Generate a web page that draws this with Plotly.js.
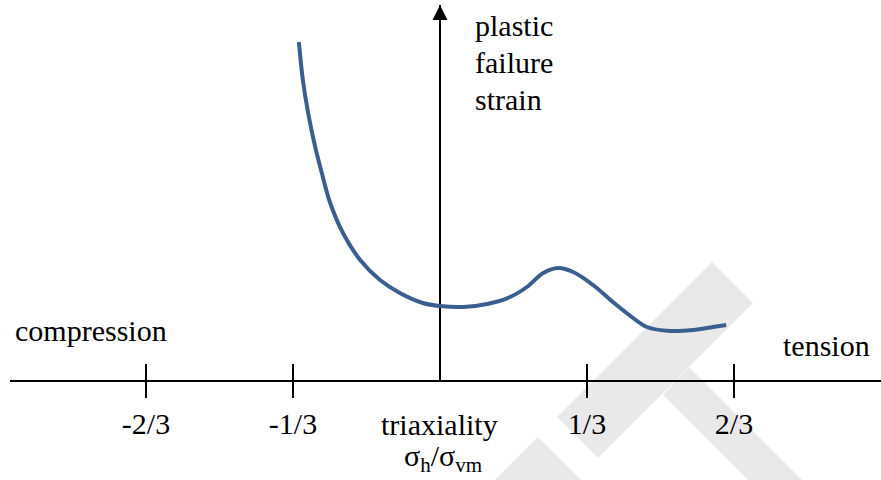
<!DOCTYPE html>
<html>
<head>
<meta charset="utf-8">
<script src="https://cdn.plot.ly/plotly-3.0.1.min.js"></script>
<style>html,body{margin:0;padding:0;background:#fff}#chart{width:881px;height:480px}</style>
</head>
<body>
<div id="chart"></div>
<script>
// Triaxiality (sigma_h / sigma_vm) and sketched plastic failure strain (arbitrary units)
const triaxiality = [-0.320, -0.311, -0.299, -0.283, -0.268, -0.249, -0.220, -0.181, -0.136, -0.091, -0.039, 0.000,
                     0.052, 0.107, 0.159, 0.197, 0.234, 0.268, 0.302, 0.347, 0.392, 0.438, 0.469, 0.522, 0.574, 0.619, 0.649];
const failureStrain = [3.38, 3.00, 2.67, 2.33, 2.07, 1.77, 1.47, 1.20, 1.00, 0.87, 0.77, 0.74,
                       0.73, 0.76, 0.83, 0.93, 1.07, 1.12, 1.08, 0.95, 0.78, 0.62, 0.53, 0.49, 0.50, 0.53, 0.55];
const tickVals = [-2/3, -1/3, 1/3, 2/3];
const tickText = ["-2/3", "-1/3", "1/3", "2/3"];
const yLabelLines = ["plastic", "failure", "strain"];

const W = 881, H = 480, M = {l: 10, r: 0, t: 5, b: 100};
const PW = W - M.l - M.r, PH = H - M.t - M.b;
const px = x => (x - M.l) / PW;
const py = y => (H - M.b - y) / PH;
const FONT = "Liberation Serif, Times New Roman, serif";
const GREY = "#e9e9e9";

function poly(pts) {
  return pts.map((p, i) => (i ? "L" : "M") + px(p[0]).toFixed(4) + "," + py(p[1]).toFixed(4)).join(" ") + " Z";
}
const watermark = [
  [[712,262],[753,303],[598,458],[557,417]],
  [[689,367],[802,480],[748,480],[663,395]],
  [[538,437],[581,480],[495,480]]
].map(p => ({type: "path", xref: "paper", yref: "paper", path: poly(p), fillcolor: GREY, line: {width: 0}, layer: "below"}));

const traces = [
  {x: triaxiality, y: failureStrain, type: "scatter", mode: "lines",
   line: {color: "#3A5F8F", width: 4, shape: "spline", smoothing: 1}, hoverinfo: "skip", showlegend: false},
  {x: [], y: [], type: "scatter", mode: "lines", xaxis: "x2", showlegend: false, hoverinfo: "skip"}
];

const txt = (text, x, y, xa, extra) => Object.assign({text, xref: "paper", yref: "paper", x: px(x), y: py(y),
  xanchor: xa, yanchor: "middle", showarrow: false, font: {family: FONT, size: 30, color: "#000"}}, extra || {});

const annotations = [
  {x: 0, y: 3.75, ax: 0, ay: 3.3, xref: "x", yref: "y", axref: "x", ayref: "y", text: "", showarrow: true,
   arrowhead: 2, arrowsize: 2, arrowwidth: 1.5, arrowcolor: "#000"},
  txt(yLabelLines[0], 473, 25, "left"),
  txt(yLabelLines[1], 473, 62, "left"),
  txt(yLabelLines[2], 473, 99, "left"),
  txt("compression", 13, 330, "left"),
  txt("tension", 781, 345, "left"),
  txt("triaxiality", 439, 424, "center"),
  txt("σ<sub>h</sub>/σ<sub>vm</sub>", 443, 458, "center")
];

const layout = {
  width: W, height: H, margin: M, paper_bgcolor: "#fff", plot_bgcolor: "#fff", showlegend: false,
  xaxis: {range: [(M.l - 440) / 441, (W - 440) / 441], showline: true, linecolor: "#000", linewidth: 1.5,
          ticks: "outside", ticklen: 16, tickwidth: 1.5, tickcolor: "#000", tickvals: tickVals, ticktext: tickText,
          tickfont: {family: FONT, size: 30, color: "#000"}, showgrid: false, zeroline: true, zerolinecolor: "#000",
          zerolinewidth: 1.5, fixedrange: true},
  xaxis2: {overlaying: "x", anchor: "y", side: "bottom", range: [(M.l - 440) / 441, (W - 440) / 441],
           ticks: "inside", ticklen: 16, tickwidth: 1.5, tickcolor: "#000", tickvals: tickVals,
           showticklabels: false, showline: false, showgrid: false, zeroline: false, fixedrange: true},
  yaxis: {range: [0, 3.75], visible: false, fixedrange: true},
  shapes: watermark,
  annotations: annotations
};

Plotly.newPlot("chart", traces, layout, {staticPlot: true, displayModeBar: false});
</script>
</body>
</html>
